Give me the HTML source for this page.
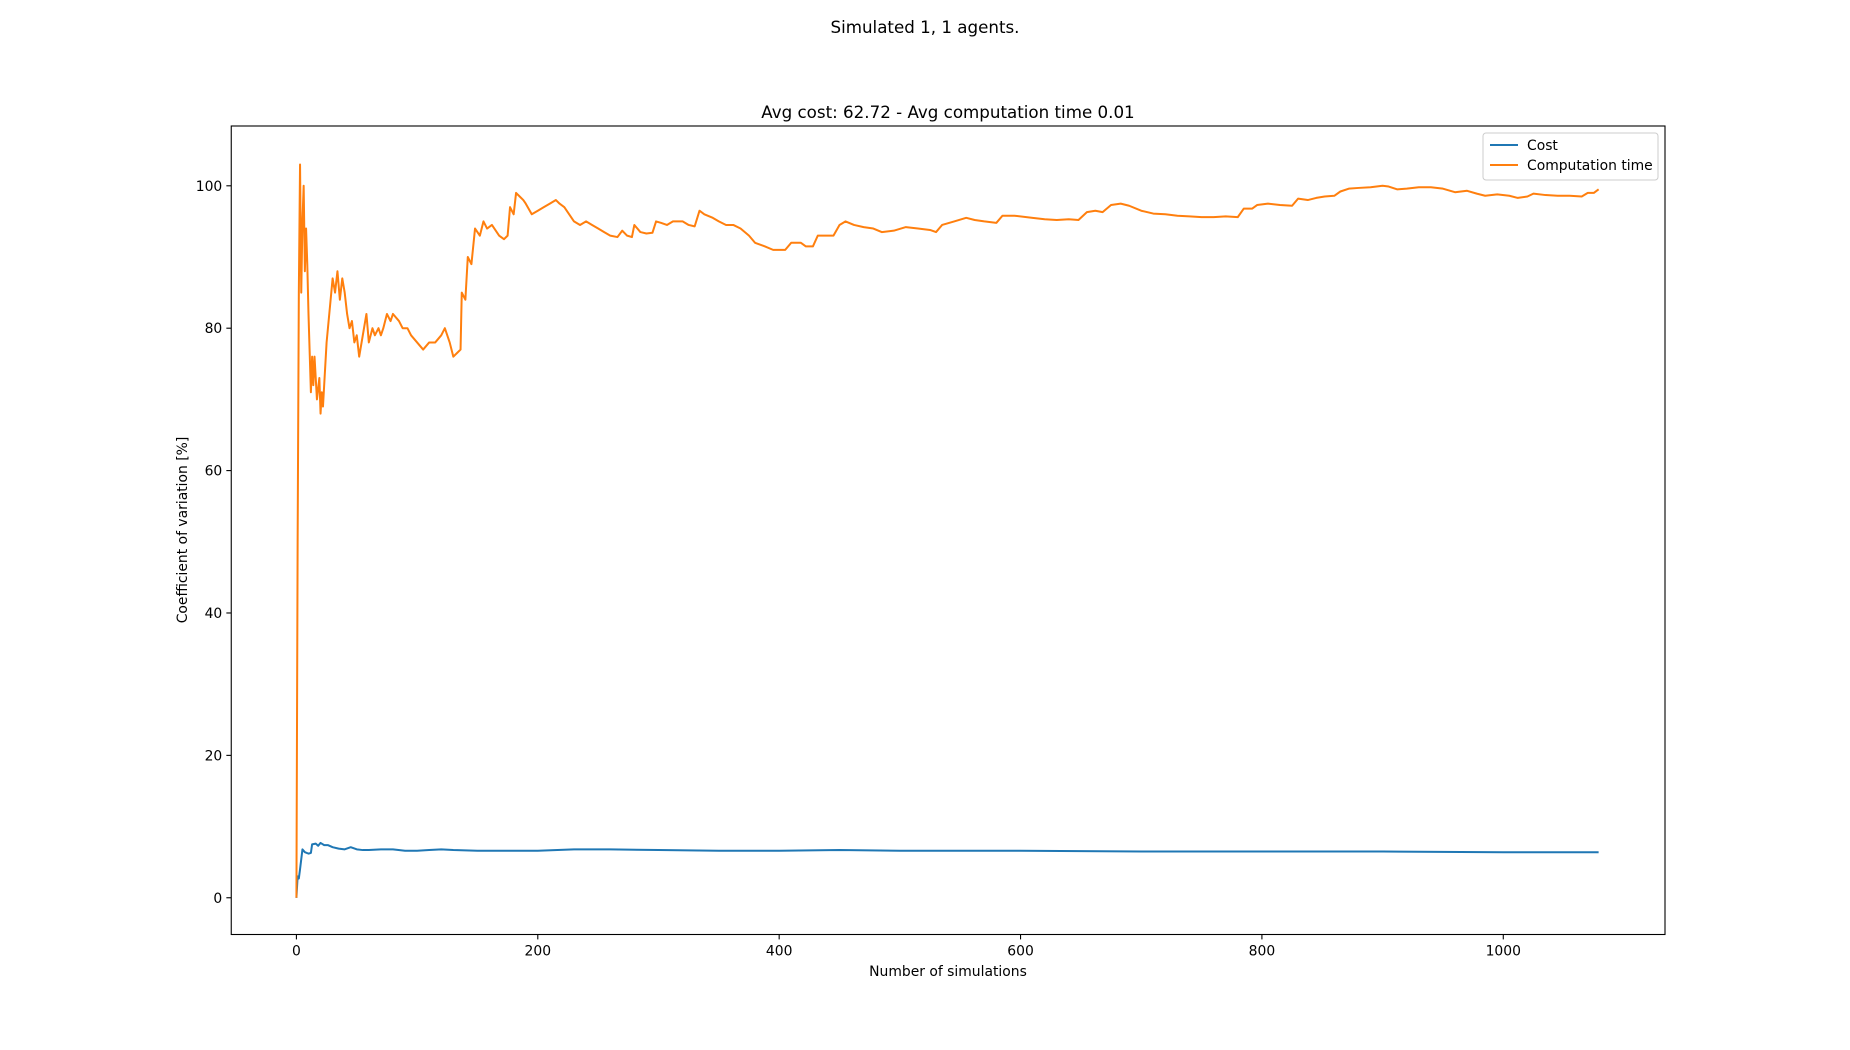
<!DOCTYPE html>
<html><head><meta charset="utf-8"><style>
html,body{margin:0;padding:0;background:#fff;}
svg{display:block;font-family:"DejaVu Sans","Liberation Sans",sans-serif;}
</style></head><body>
<svg id="chart" width="1850" height="1050" viewBox="0 0 1850 1050">
<rect width="1850" height="1050" fill="#fff"/>
<text x="925" y="33" text-anchor="middle" font-size="16.7">Simulated 1, 1 agents.</text>
<text x="948" y="118" text-anchor="middle" font-size="16.7">Avg cost: 62.72 - Avg computation time 0.01</text>
<g id="plot"></g>
<g id="xticks"></g>
<g id="yticks"></g>
<rect x="231.25" y="126" width="1433.75" height="808.5" fill="none" stroke="#000" stroke-width="1.1"/>
<text x="948" y="976" text-anchor="middle" font-size="13.9">Number of simulations</text>
<text transform="translate(187,530) rotate(-90)" text-anchor="middle" font-size="13.9">Coefficient of variation [%]</text>
<g>
<rect x="1483" y="133" width="175" height="47" rx="3" fill="#fff" fill-opacity="0.8" stroke="#ccc"/>
<line x1="1490" y1="145" x2="1518" y2="145" stroke="#1f77b4" stroke-width="2"/>
<text x="1527" y="150" font-size="13.9">Cost</text>
<line x1="1490" y1="165" x2="1518" y2="165" stroke="#ff7f0e" stroke-width="2"/>
<text x="1527" y="170" font-size="13.9">Computation time</text>
</g>
</svg>
<script>
const xTicks=[0,200,400,600,800,1000];
const yTicks=[0,20,40,60,80,100];
const timeX=[0,1,2,3,4,5,6,7,8,9,10,12,13,14,15,17,19,20,21,22,25,30,32,34,36,38,40,42,44,46,48,50,52,55,58,60,63,65,68,70,72,75,78,80,85,88,92,95,100,105,110,115,120,123,127,130,133,136,137,140,142,145,148,152,155,158,162,168,172,175,177,180,182,185,188,190,195,200,205,210,215,218,222,226,230,235,240,245,250,255,260,266,270,274,278,280,285,290,295,298,302,307,312,320,325,330,334,338,345,350,356,362,368,375,380,388,395,400,405,410,418,422,428,432,438,445,450,455,462,470,478,485,495,505,515,525,530,535,545,555,562,570,580,585,595,610,620,630,640,648,655,662,668,675,683,690,700,710,720,730,740,750,760,770,780,785,792,796,805,815,825,830,838,845,852,860,865,872,880,890,900,905,912,920,930,940,950,960,970,978,985,995,1005,1012,1020,1025,1035,1045,1055,1065,1070,1075,1079];
const timeY=[0,50,85,103,85,95,100,88,94,89,82,71,76,72,76,70,73,68,71,69,78,87,85,88,84,87,85,82,80,81,78,79,76,79,82,78,80,79,80,79,80,82,81,82,81,80,80,79,78,77,78,78,79,80,78,76,76.5,77,85,84,90,89,94,93,95,94,94.5,93,92.5,93,97,96,99,98.5,98,97.5,96,96.5,97,97.5,98,97.5,97,96,95,94.5,95,94.5,94,93.5,93,92.8,93.7,93,92.8,94.5,93.5,93.3,93.4,95,94.8,94.5,95,95,94.5,94.3,96.5,96,95.5,95,94.5,94.5,94,93,92,91.5,91,91,91,92,92,91.5,91.5,93,93,93,94.5,95,94.5,94.2,94,93.5,93.7,94.2,94,93.8,93.5,94.5,95,95.5,95.2,95,94.8,95.8,95.8,95.5,95.3,95.2,95.3,95.2,96.3,96.5,96.3,97.3,97.5,97.2,96.5,96.1,96,95.8,95.7,95.6,95.6,95.7,95.6,96.8,96.8,97.3,97.5,97.3,97.2,98.2,98,98.3,98.5,98.6,99.2,99.6,99.7,99.8,100,99.9,99.5,99.6,99.8,99.8,99.6,99.1,99.3,98.9,98.6,98.8,98.6,98.3,98.5,98.9,98.7,98.6,98.6,98.5,99,99,99.5];
const costX=[0,1,2,3,5,7,10,12,13,16,18,20,23,26,30,35,40,45,50,55,60,70,80,90,100,110,120,130,150,170,200,230,260,300,350,400,450,500,600,700,800,900,1000,1079];
const costY=[0,3,2.7,4,6.8,6.4,6.2,6.3,7.5,7.6,7.3,7.7,7.4,7.4,7.1,6.9,6.8,7.1,6.8,6.7,6.7,6.8,6.8,6.6,6.6,6.7,6.8,6.7,6.6,6.6,6.6,6.8,6.8,6.7,6.6,6.6,6.7,6.6,6.6,6.5,6.5,6.5,6.4,6.4];

const L=231.25,R=1665,T=126,B=934.5;
const xMin=-54,xMax=1134,yMin=-5.16,yMax=108.4;
function sx(v){return L+(v-xMin)/(xMax-xMin)*(R-L);}
function sy(v){return B-(v-yMin)/(yMax-yMin)*(B-T);}
const NS='http://www.w3.org/2000/svg';
function mk(tag,attrs,parent){const e=document.createElementNS(NS,tag);for(const k in attrs)e.setAttribute(k,attrs[k]);parent.appendChild(e);return e;}
const xg=document.getElementById('xticks'),yg=document.getElementById('yticks'),pg=document.getElementById('plot');
xTicks.forEach(v=>{
  const t=mk('line',{x1:sx(v),x2:sx(v),y1:B,y2:B+4.9,stroke:'#000','stroke-width':1.1},xg);
  
  
  const l=mk('text',{x:sx(v),y:B+21,'text-anchor':'middle','font-size':13.9},xg);
  l.textContent=v;
  
  
});
yTicks.forEach(v=>{
  const t=mk('line',{x1:L-4.9,x2:L,y1:sy(v),y2:sy(v),stroke:'#000','stroke-width':1.1},yg);
  
  
  const l=mk('text',{x:L-9,y:sy(v)+5,'text-anchor':'end','font-size':13.9},yg);
  l.textContent=v;
  
  
});
function line(xs,ys,color,name){
  const d=xs.map((x,i)=>(i?'L':'M')+sx(x).toFixed(2)+','+sy(ys[i]).toFixed(2)).join('');
  const p=mk('path',{d:d,fill:'none',stroke:color,'stroke-width':2,'stroke-linejoin':'round'},pg);
  
  
}
line(costX,costY,'#1f77b4','cost-line');
line(timeX,timeY,'#ff7f0e','computation-time-line');
</script>
</body></html>
